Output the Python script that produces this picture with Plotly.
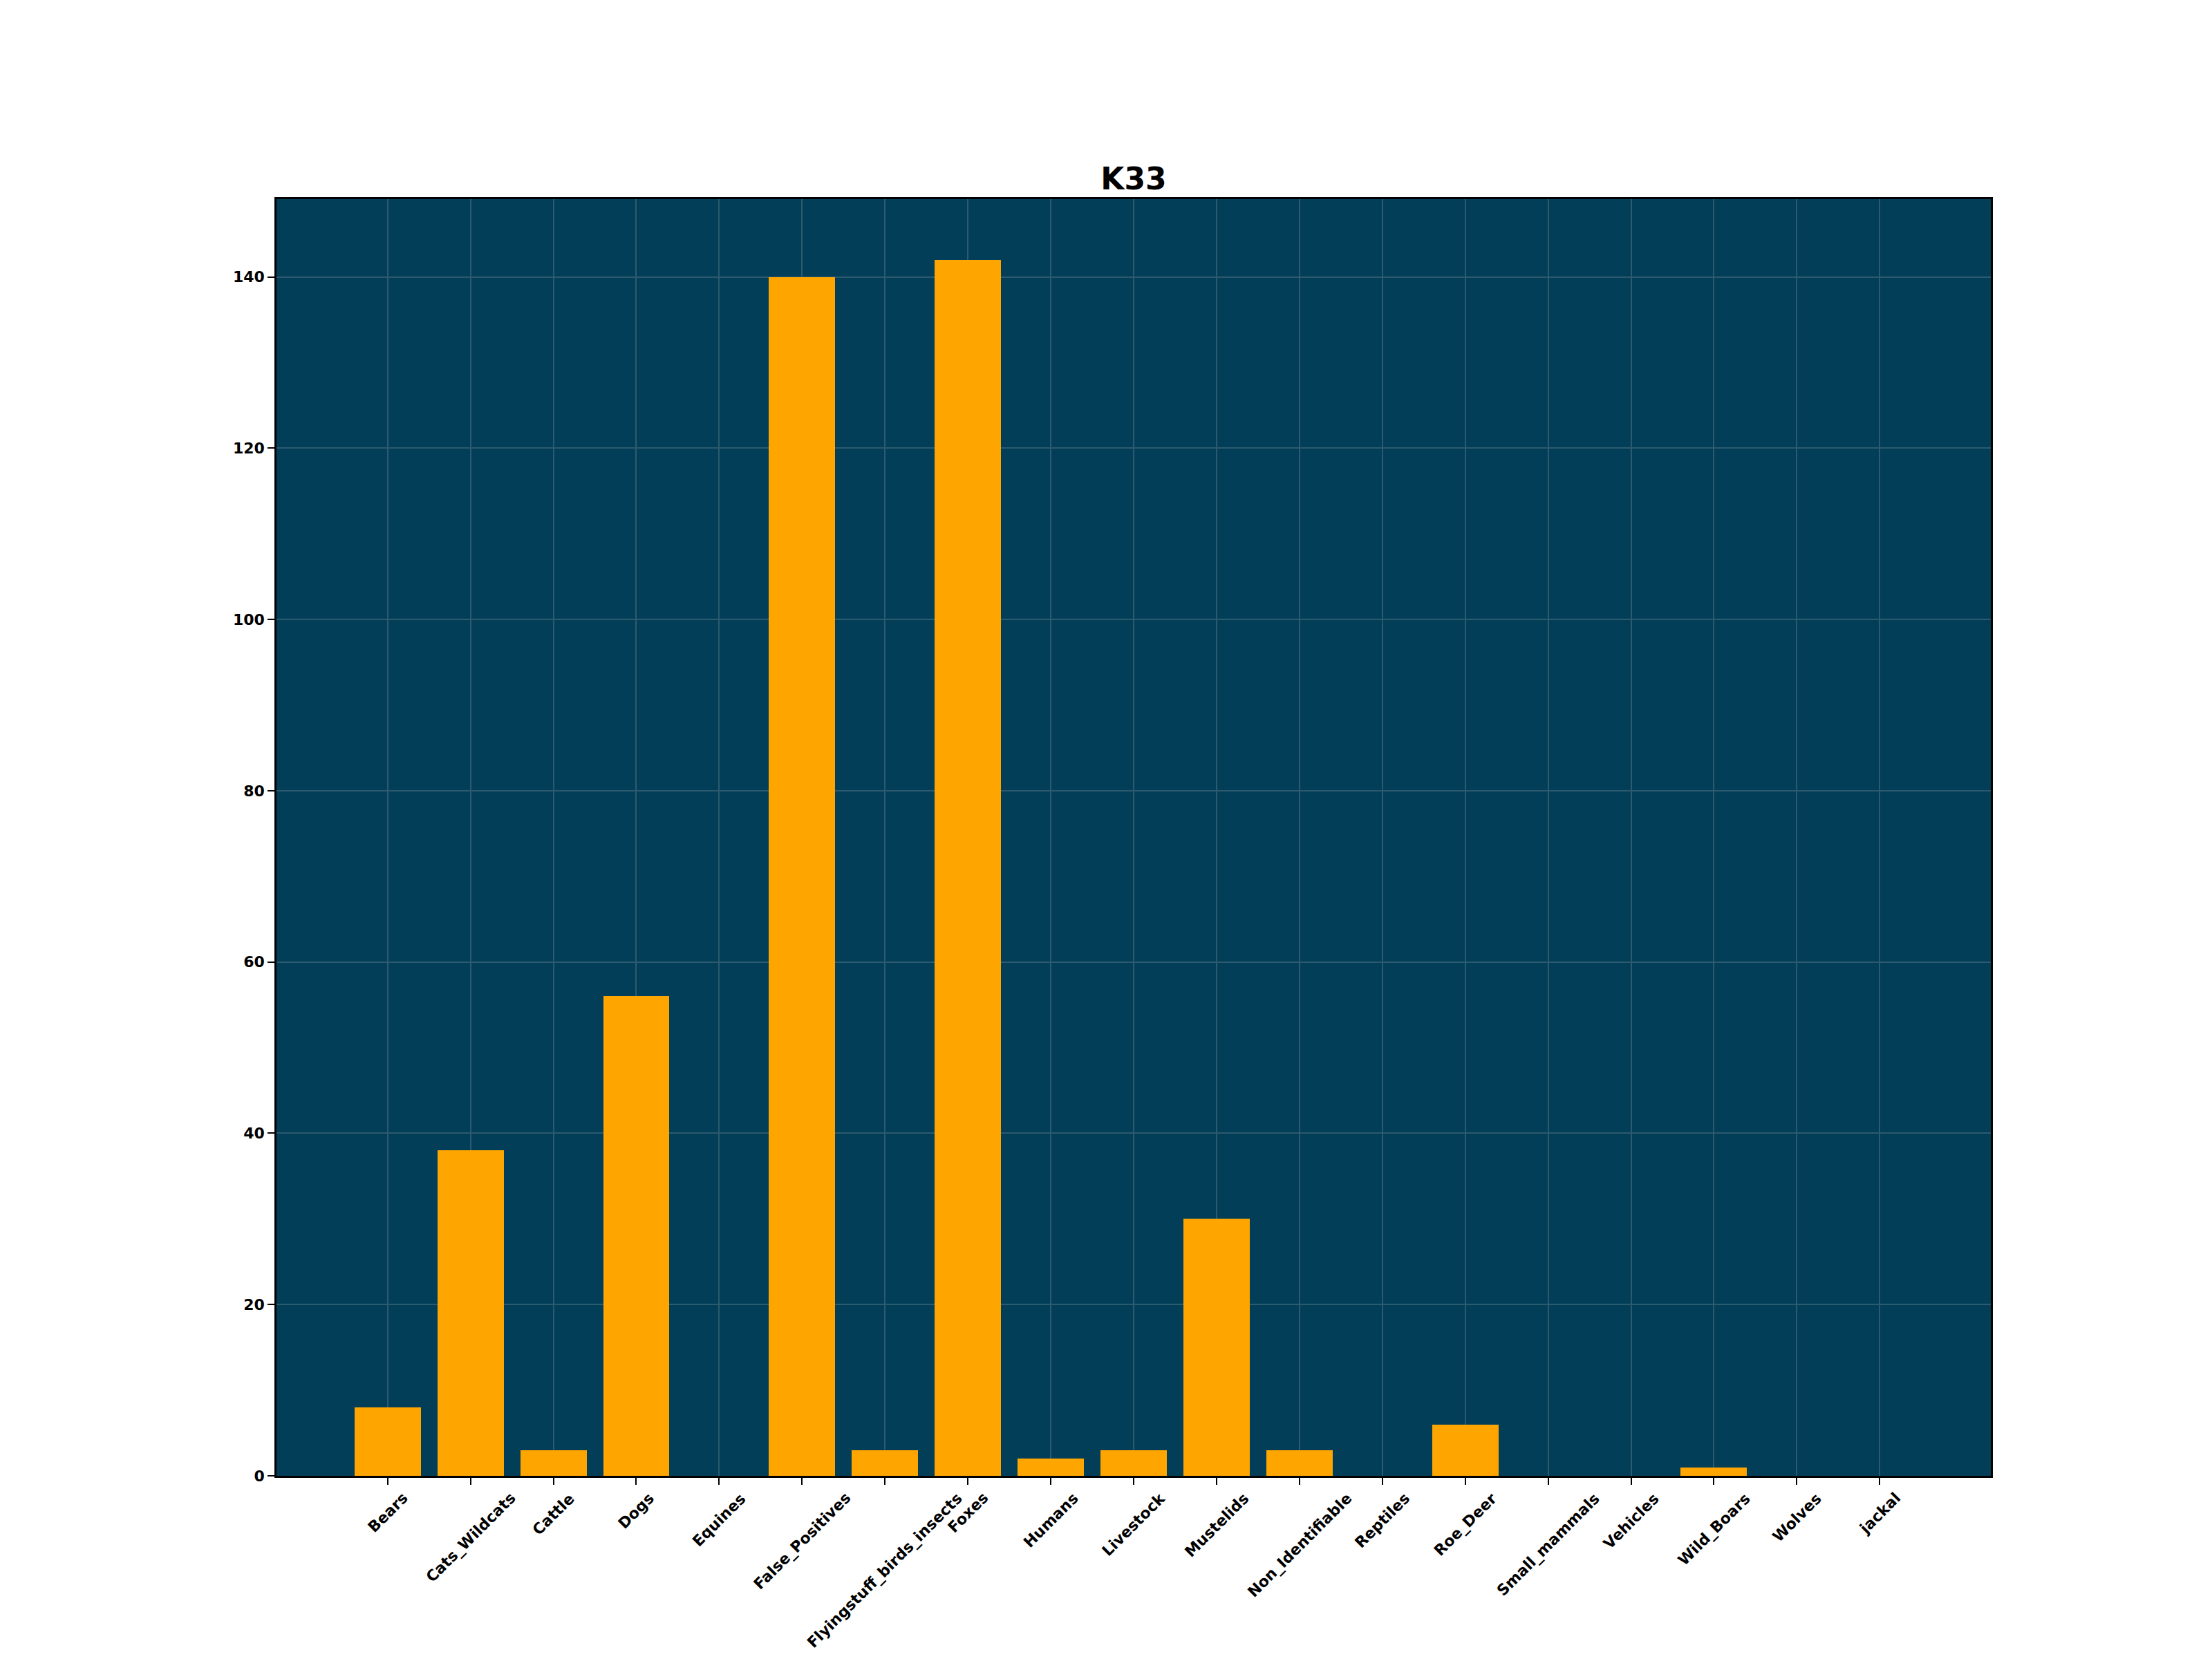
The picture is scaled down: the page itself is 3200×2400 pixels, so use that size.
import plotly.graph_objects as go

categories = ["Bears", "Cats_Wildcats", "Cattle", "Dogs", "Equines", "False_Positives",
              "Flyingstuff_birds_insects", "Foxes", "Humans", "Livestock", "Mustelids",
              "Non_Identifiable", "Reptiles", "Roe_Deer", "Small_mammals", "Vehicles",
              "Wild_Boars", "Wolves", "jackal"]
counts = [8, 38, 3, 56, 0, 140, 3, 142, 2, 3, 30, 3, 0, 6, 0, 0, 1, 0, 0]
y_ticks = [0, 20, 40, 60, 80, 100, 120, 140]
title_text = "K33"

BG = "#023e58"
GRID = "#2c5a6f"
FONT = "DejaVu Sans"

xpos = list(range(len(categories)))
n = len(categories)
span = (n - 1) + 0.8
xmin = -0.4 - 0.05 * span
xmax = (n - 1) + 0.4 + 0.05 * span
ymax = max(counts) * 1.05

fig = go.Figure()
fig.add_trace(go.Bar(x=xpos, y=counts, width=0.8,
                     marker=dict(color="#FFA500", line=dict(width=0)),
                     showlegend=False))

annotations = []
for xi, lab in zip(xpos, categories):
    annotations.append(dict(x=xi, y=0, xref="x", yref="paper", text=lab,
                            showarrow=False, textangle=-45, xanchor="center",
                            yanchor="top", yshift=-17,
                            font=dict(family=FONT, size=22, color="black", weight="bold")))

fig.update_layout(
    width=3200, height=2400,
    margin=dict(l=392, r=328, t=280, b=273),
    paper_bgcolor="white", plot_bgcolor=BG,
    title=dict(text=title_text, x=0.5, xref="paper", xanchor="center",
               y=1, yref="paper", yanchor="bottom", pad=dict(b=14),
               font=dict(family=FONT, size=44, color="black", weight="bold")),
    annotations=annotations,
    bargap=0,
)
fig.update_xaxes(range=[xmin, xmax], tickvals=xpos, showticklabels=False,
                 ticks="outside", ticklen=10, tickwidth=2, tickcolor="black",
                 showgrid=True, gridcolor=GRID, gridwidth=2,
                 showline=True, linecolor="black", linewidth=2.5, mirror=True,
                 zeroline=False)
fig.update_yaxes(range=[0, ymax], tickvals=y_ticks, ticks="outside", ticklen=10,
                 tickwidth=2, tickcolor="black",
                 tickfont=dict(family=FONT, size=22, color="black", weight="bold"),
                 showgrid=True, gridcolor=GRID, gridwidth=2,
                 showline=True, linecolor="black", linewidth=2.5, mirror=True,
                 zeroline=False)

fig.write_html("out.html")
